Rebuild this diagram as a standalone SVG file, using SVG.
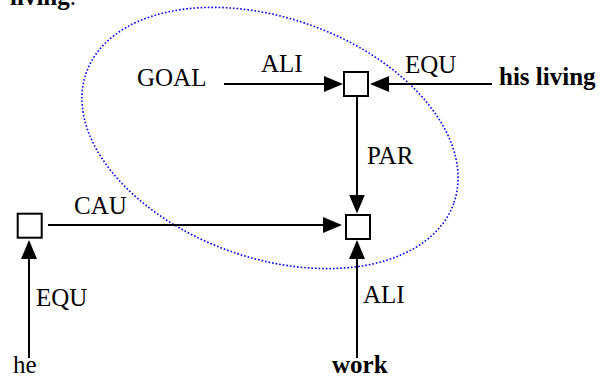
<svg xmlns="http://www.w3.org/2000/svg" width="604" height="379" viewBox="0 0 604 379">
<style>
text{font-family:"Liberation Serif","Times New Roman",serif;font-size:25px;fill:#000}
.b{font-weight:bold}
.box{fill:#fff;stroke:#000;stroke-width:2}
.c{stroke:#000;stroke-width:2;fill:none}
.ell{fill:none;stroke:#0000ff;stroke-width:1.6;stroke-dasharray:1.6 2}
</style>
<defs>
<marker id="ah" markerUnits="userSpaceOnUse" markerWidth="20" markerHeight="18" refX="16" refY="8" orient="auto" viewBox="0 0 20 18">
<path d="M0,0 L19,8 L0,16 z" fill="#000"/>
</marker>
</defs>
<text x="76" y="5" text-anchor="end"><tspan class="b">living</tspan>.</text>
<ellipse class="ell" cx="270" cy="138" rx="195" ry="120" transform="rotate(19.6 270 138)"/>
<g id="connectors">
<line class="c" x1="224" y1="84" x2="340" y2="84" marker-end="url(#ah)"/>
<line class="c" x1="492" y1="84" x2="373" y2="84" marker-end="url(#ah)"/>
<line class="c" x1="357" y1="97" x2="357" y2="210.5" marker-end="url(#ah)"/>
<line class="c" x1="48" y1="225" x2="339" y2="225" marker-end="url(#ah)"/>
<line class="c" x1="357" y1="358" x2="357" y2="243" marker-end="url(#ah)"/>
<line class="c" x1="29" y1="358" x2="29" y2="243" marker-end="url(#ah)"/>
<text x="261" y="72">ALI</text>
<text x="405" y="73">EQU</text>
<text x="367" y="164">PAR</text>
<text x="74" y="214">CAU</text>
<text x="36" y="306">EQU</text>
<text x="363" y="303">ALI</text>
</g>
<g id="goal"><text x="137" y="86">GOAL</text></g>
<g id="hisliving"><text class="b" x="499" y="85">his living</text></g>
<g id="he"><text x="13" y="373">he</text></g>
<g id="work"><text class="b" x="332" y="373">work</text></g>
<g id="boxTop"><rect class="box" x="344" y="72" width="24" height="24"/></g>
<g id="boxBottom"><rect class="box" x="346" y="215" width="24" height="24"/></g>
<g id="boxLeft"><rect class="box" x="17.7" y="213.7" width="24" height="24"/></g>
</svg>
